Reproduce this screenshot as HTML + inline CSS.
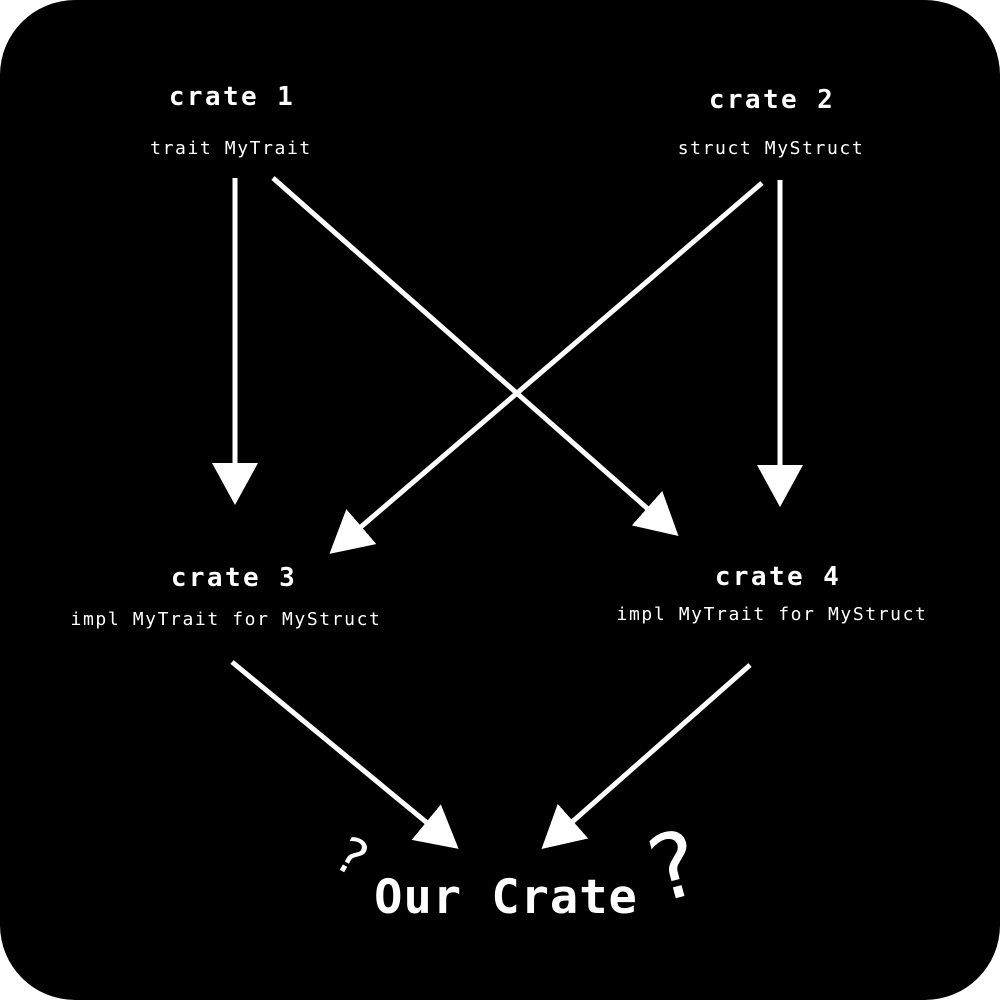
<!DOCTYPE html>
<html><head><style>
html,body{margin:0;padding:0;background:#fff;}
svg{display:block;}
text{font-family:"DejaVu Sans Mono","Liberation Mono",monospace;fill:#fff;}
.h{font-size:26px;font-weight:bold;letter-spacing:2.4px;}
.s{font-size:18px;letter-spacing:1.6px;}
</style></head><body>
<svg width="1000" height="1000" viewBox="0 0 1000 1000" xmlns="http://www.w3.org/2000/svg">
<defs>
<marker id="a" markerUnits="userSpaceOnUse" markerWidth="50" markerHeight="50" refX="36" refY="23" orient="auto">
<path d="M0,0 L42,23 L0,46 Z" fill="#fff"/>
</marker>
</defs>
<rect x="0" y="0" width="1000" height="1000" rx="75" ry="75" fill="#000"/>
<g stroke="#fff" stroke-width="5" fill="none" marker-end="url(#a)">
<line x1="235" y1="178" x2="235" y2="499"/>
<line x1="273" y1="178" x2="674" y2="532"/>
<line x1="762" y1="183" x2="334" y2="550"/>
<line x1="780" y1="180" x2="780" y2="501"/>
<line x1="232" y1="662" x2="454" y2="845"/>
<line x1="750" y1="665" x2="546" y2="845"/>
</g>
<text class="h" x="232" y="105" text-anchor="middle">crate 1</text>
<text class="s" x="231" y="154" text-anchor="middle">trait MyTrait</text>
<text class="h" x="772" y="108" text-anchor="middle">crate 2</text>
<text class="s" x="771" y="154" text-anchor="middle">struct MyStruct</text>
<text class="h" x="234" y="586" text-anchor="middle">crate 3</text>
<text class="s" x="226" y="625" text-anchor="middle">impl MyTrait for MyStruct</text>
<text class="h" x="778" y="585" text-anchor="middle">crate 4</text>
<text class="s" x="772" y="620" text-anchor="middle">impl MyTrait for MyStruct</text>
<text x="506" y="913" text-anchor="middle" style="font-size:47px;font-weight:bold;letter-spacing:1px;">Our Crate</text>
<text x="352" y="874" text-anchor="middle" transform="rotate(30 352 855)" style="font-size:50px;">?</text>
<text x="672" y="898" text-anchor="middle" transform="rotate(-15 672 862)" style="font-size:90px;">?</text>
</svg>
</body></html>
